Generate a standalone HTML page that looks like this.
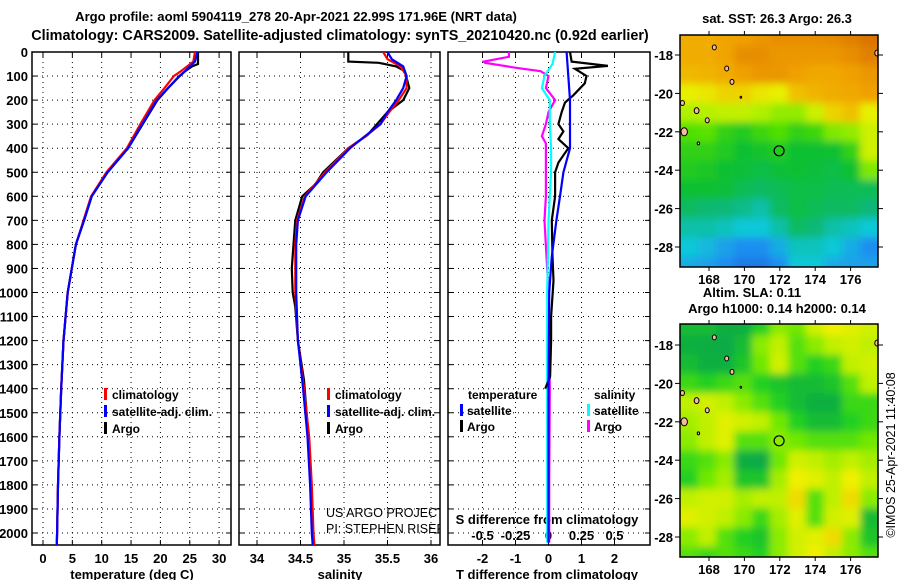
<!DOCTYPE html>
<html><head><meta charset="utf-8"><style>
body{margin:0;background:#fff}
svg text{font-family:"Liberation Sans",sans-serif;font-weight:bold;fill:#000}
svg text.nw{font-weight:normal}
</style></head><body>
<svg id="svg" width="900" height="580" viewBox="0 0 900 580" xmlns="http://www.w3.org/2000/svg">
<rect width="900" height="580" fill="#fff"/>
<text x="296" y="21" font-size="13.1" text-anchor="middle">Argo profile: aoml 5904119_278 20-Apr-2021 22.99S 171.96E (NRT data)</text>
<text x="340" y="40" font-size="14.4" text-anchor="middle">Climatology: CARS2009. Satellite-adjusted climatology: synTS_20210420.nc (0.92d earlier)</text>
<defs>
<clipPath id="c1"><rect x="32" y="52" width="199" height="493"/></clipPath>
<clipPath id="c2"><rect x="239" y="52" width="201" height="493"/></clipPath>
<clipPath id="c3"><rect x="448" y="52" width="202" height="493"/></clipPath>
<clipPath id="m1"><rect x="680" y="35" width="198" height="232"/></clipPath>
<clipPath id="m2"><rect x="680" y="324" width="198" height="233"/></clipPath>
<filter id="bl" x="-10%" y="-10%" width="120%" height="120%"><feGaussianBlur stdDeviation="4"/></filter>
</defs>
<g id="root"></g>
</svg>
<script>
// ---- data ----
const depthTicks=[0,100,200,300,400,500,600,700,800,900,1000,1100,1200,1300,1400,1500,1600,1700,1800,1900,2000];
const tempTicks=[0,5,10,15,20,25,30];
const salTicks=[34,34.5,35,35.5,36];
const tdiffTicks=[-2,-1,0,1,2];
const sdiffTicks=[-0.5,-0.25,0,0.25,0.5];
const sdiffTickLabels=["-0.5","-0.25","0","0.25","0.5"];
const argoDepth=[0,50,60,80,100,150,200,300,400,500,600,700,800,900,1000,1200,1400,1600,1800,2000,2040];
const argoTemp=[26.4,26.4,25.4,24.2,23.3,21.3,19.5,17,14.5,11,8.3,7.0,5.6,4.9,4.2,3.5,3.1,2.8,2.55,2.4,2.35];
const climDepth=[0,40,80,100,150,200,300,400,500,600,700,800,900,1000,1200,1400,1600,1800,2000,2050];
const climTemp=[25.9,25.6,23.5,22.3,20.7,19,16.6,14.3,10.8,8.2,6.9,5.6,4.9,4.2,3.5,3.1,2.8,2.55,2.4,2.35];
const satTemp=[26.3,25.9,24.2,23.2,21.3,19.4,16.9,14.5,11,8.3,7.0,5.6,4.9,4.2,3.5,3.1,2.8,2.55,2.4,2.35];
const argoSDepth=[0,40,45,60,80,150,200,250,345,400,500,550,600,700,800,900,1000,1060,1200,1365,1500,1700,1900,2000,2040];
const argoSal=[35.05,35.05,35.4,35.6,35.7,35.75,35.68,35.5,35.27,35.05,34.76,34.67,34.52,34.44,34.42,34.4,34.41,34.44,34.47,34.54,34.57,34.61,34.63,34.64,34.65];
const climSDepth=[0,30,60,100,150,200,250,300,350,400,500,600,700,800,1000,1200,1400,1600,1800,2000,2050];
const climSal=[35.45,35.5,35.65,35.72,35.72,35.63,35.52,35.42,35.25,35.05,34.78,34.55,34.46,34.44,34.44,34.47,34.54,34.6,34.63,34.65,34.66];
const satSal=[35.5,35.55,35.68,35.72,35.68,35.6,35.5,35.42,35.24,35.07,34.8,34.56,34.47,34.45,34.45,34.47,34.53,34.58,34.61,34.63,34.64];
const dDepth=[0,40,58,70,100,130,180,210,250,300,330,362,400,460,500,600,700,850,950,1100,1200,1350,1400];
const argoTdiff=[0.65,0.7,1.8,0.8,1.15,1.1,0.75,0.5,0.4,0.3,0.45,0.3,0.6,0.3,0.2,0.2,0.1,0.12,0.15,0.08,0.08,0.05,-0.1];
const sDepth=[0,20,40,45,66,80,100,150,200,250,300,350,380,400,600,700,1000,1400,1800,2040];
const argoSdiff=[-0.3,-0.3,-0.49,-0.48,-0.24,-0.06,0,-0.02,0.05,0,-0.02,-0.05,-0.02,-0.02,-0.02,-0.03,0.0,0.01,0.005,0.005];
const satDDepth=[0,100,200,300,400,500,600,700,850,1000,1400,2040];
const satTdiff=[0.55,0.6,0.65,0.65,0.65,0.45,0.35,0.24,0.1,0.02,0,0];
const satSDepth=[0,50,100,150,200,300,400,500,600,700,1000,2040];
const satSdiff=[0.05,0.03,-0.03,-0.05,0.01,0.01,0.02,0.02,0.01,0,-0.01,-0.01];
const latTicks=[-18,-20,-22,-24,-26,-28];
const lonTicks=[168,170,172,174,176];
const sstGrid=[
[.85,.85,.87,.88,.9,.92,.92,.92,.93,.95,.97],
[.85,.85,.87,.92,.92,.9,.9,.9,.9,.92,.95],
[.82,.83,.85,.88,.9,.9,.88,.86,.86,.88,.9],
[.75,.76,.78,.78,.76,.75,.8,.83,.85,.86,.88],
[.65,.66,.68,.68,.65,.62,.62,.7,.78,.8,.75],
[.55,.56,.5,.48,.52,.55,.5,.52,.6,.62,.7],
[.5,.5,.48,.45,.46,.48,.45,.45,.45,.5,.7],
[.48,.47,.45,.44,.42,.44,.45,.43,.42,.45,.6],
[.45,.45,.44,.4,.38,.4,.42,.42,.4,.4,.4],
[.38,.36,.35,.33,.3,.38,.42,.4,.38,.38,.35],
[.3,.3,.28,.25,.25,.3,.38,.35,.3,.28,.25],
[.25,.22,.18,.15,.15,.2,.28,.28,.25,.2,.15],
[.2,.18,.15,.1,.1,.15,.25,.25,.2,.18,.18]];
const slaGrid=[
[.3,.3,.25,.25,.4,.6,.55,.75,.85,.8,.75],
[.25,.2,.15,.3,.6,.7,.5,.6,.7,.75,.7],
[.3,.25,.25,.35,.55,.75,.5,.4,.45,.7,.75],
[.45,.4,.45,.5,.4,.35,.3,.3,.35,.5,.7],
[.7,.75,.7,.6,.5,.4,.3,.25,.25,.45,.45],
[.65,.7,.8,.75,.7,.55,.4,.3,.3,.4,.45],
[.6,.7,.8,.5,.5,.6,.55,.5,.5,.5,.55],
[.45,.5,.6,.2,.15,.55,.75,.7,.65,.7,.65],
[.4,.55,.65,.35,.35,.65,.85,.8,.7,.85,.7],
[.7,.75,.75,.65,.7,.7,.9,.5,.7,.9,.6],
[.8,.75,.7,.6,.45,.65,.8,.5,.75,.8,.3],
[.6,.7,.5,.4,.35,.6,.75,.8,.9,.6,.35],
[.5,.45,.5,.45,.4,.6,.75,.85,.7,.6,.5]];
const islandLon=[168.3,169.0,169.3,169.8,166.5,167.3,167.9,166.6,167.4,177.5];
const islandLat=[-17.6,-18.7,-19.4,-20.2,-20.5,-20.9,-21.4,-22.0,-22.6,-17.9];
const islandR=[2.5,2.5,2.5,1,2.5,3,2.5,4,1.5,3];
const floatLon=171.96, floatLat=-22.99;

// ---- scales ----
const NS="http://www.w3.org/2000/svg";
const root=document.getElementById('root');
function el(tag,attrs,parent){const e=document.createElementNS(NS,tag);for(const k in attrs)e.setAttribute(k,attrs[k]);(parent||root).appendChild(e);return e;}
const yD=d=>52+d*0.2405;
const xT=t=>43+t*5.87;
const xS=s=>257+(s-34)*87;
const xTd=t=>548.5+t*33;
const xSd=s=>548.5+s*132;
const panels=[{x:32,w:199,clip:'c1'},{x:239,w:201,clip:'c2'},{x:448,w:202,clip:'c3'}];

function frame(p,xticks,xf,name){
  const g=el('g',{});
  
  
  depthTicks.forEach(d=>{if(d>0){el('line',{x1:p.x,x2:p.x+p.w,y1:yD(d),y2:yD(d),stroke:'#000','stroke-dasharray':'1 4','stroke-width':1},g);
    el('line',{x1:p.x,x2:p.x+5,y1:yD(d),y2:yD(d),stroke:'#000'},g);el('line',{x1:p.x+p.w-5,x2:p.x+p.w,y1:yD(d),y2:yD(d),stroke:'#000'},g);}});
  xticks.forEach(v=>{const x=xf(v);el('line',{x1:x,x2:x,y1:52,y2:545,stroke:'#000','stroke-dasharray':'1 4'},g);
    el('line',{x1:x,x2:x,y1:52,y2:57,stroke:'#000'},g);el('line',{x1:x,x2:x,y1:540,y2:545,stroke:'#000'},g);});
  const r=el('rect',{x:p.x,y:52,width:p.w,height:493,fill:'none',stroke:'#000','stroke-width':1.5});
  
  
}
frame(panels[0],tempTicks,xT,'temperature-panel');
frame(panels[1],salTicks,xS,'salinity-panel');
frame(panels[2],tdiffTicks,xTd,'difference-panel');

depthTicks.forEach(d=>{const t=el('text',{x:28,y:yD(d)+5,'font-size':13,'text-anchor':'end'});t.textContent=d;
  
  });
function xlabels(ticks,f,labels){ticks.forEach((v,i)=>{const t=el('text',{x:f(v),y:563,'font-size':13,'text-anchor':'middle'});t.textContent=labels?labels[i]:v;
  
  });}
xlabels(tempTicks,xT);xlabels(salTicks,xS);xlabels(tdiffTicks,xTd);
function txt(x,y,s,size,name,anchor,normal){const t=el('text',{x:x,y:y,'font-size':size,'text-anchor':anchor||'start'});if(normal)t.setAttribute('class','nw');t.textContent=s;
  
  return t;}
txt(132,579,'temperature (deg C)',13,'x-axis-title-temperature','middle');
txt(340,579,'salinity',13,'x-axis-title-salinity','middle');
txt(547,579,'T difference from climatology',13,'x-axis-title-tdiff','middle');
txt(547,524,'S difference from climatology',13,'s-diff-axis-title','middle');
sdiffTicks.forEach((v,i)=>txt(xSd(v),540,sdiffTickLabels[i],13,'s-diff-tick-label','middle'));

function line(xs,ds,xf,color,clip,name){
  const pts=xs.map((v,i)=>xf(v).toFixed(1)+','+yD(ds[i]).toFixed(1)).join(' ');
  const p=el('polyline',{points:pts,fill:'none',stroke:color,'stroke-width':2.2,'clip-path':'url(#'+clip+')'});
  
  
}
line(argoTemp,argoDepth,xT,'#000','c1','argo-temperature-line');
line(climTemp,climDepth,xT,'#f00','c1','clim-temperature-line');
line(satTemp,climDepth,xT,'#00f','c1','sat-temperature-line');
line(argoSal,argoSDepth,xS,'#000','c2','argo-salinity-line');
line(climSal,climSDepth,xS,'#f00','c2','clim-salinity-line');
line(satSal,climSDepth,xS,'#00f','c2','sat-salinity-line');
line(argoSdiff,sDepth,xSd,'#f0f','c3','argo-sdiff-line');
line(satSdiff,satSDepth,xSd,'#0ff','c3','sat-sdiff-line');
line(argoTdiff,dDepth,xTd,'#000','c3','argo-tdiff-line');
line(satTdiff,satDDepth,xTd,'#00f','c3','sat-tdiff-line');

function mark(x,y,c){const r=el('rect',{x:x,y:y-11,width:3,height:12,fill:c});
  
  }
[[104,'climatology','#f00'],[104,'satellite-adj. clim.','#00f'],[104,'Argo','#000']].forEach((a,i)=>{mark(a[0],399+i*17,a[2]);txt(a[0]+8,399+i*17,a[1],12,'legend-entry-temperature');});
[[327,'climatology','#f00'],[327,'satellite-adj. clim.','#00f'],[327,'Argo','#000']].forEach((a,i)=>{mark(a[0],399+i*17,a[2]);txt(a[0]+8,399+i*17,a[1],12,'legend-entry-salinity');});
txt(468,399,'temperature',12,'legend-header-temperature');
txt(594,399,'salinity',12,'legend-header-salinity');
mark(460,415,'#00f');txt(467,415,'satellite',12,'legend-entry-tsat');
mark(460,431,'#000');txt(467,431,'Argo',12,'legend-entry-targo');
mark(587,415,'#0ff');txt(594,415,'satellite',12,'legend-entry-ssat');
mark(587,431,'#f0f');txt(594,431,'Argo',12,'legend-entry-sargo');
const g2=el('g',{'clip-path':'url(#c2)'});
const a1=txt(326,517,'US ARGO PROJECT',12.5,'project-label','start',true);g2.appendChild(a1);
const a2=txt(326,533,'PI: STEPHEN RISER',12.5,'pi-label','start',true);g2.appendChild(a2);

// ---- maps ----
const sstStops=[[0,[26,79,214]],[.15,[30,143,240]],[.25,[16,200,216]],[.35,[16,184,120]],[.45,[16,192,48]],[.55,[80,224,0]],[.65,[176,240,0]],[.75,[232,240,0]],[.8,[240,192,0]],[.88,[240,160,0]],[.95,[224,128,0]],[1,[208,96,0]]];
const slaStops=[[0,[0,160,80]],[.25,[16,176,64]],[.4,[32,208,32]],[.55,[112,232,0]],[.7,[192,240,0]],[.85,[240,240,0]],[1,[240,176,0]]];
function cmap(stops,v){for(let i=1;i<stops.length;i++){if(v<=stops[i][0]){const a=stops[i-1],b=stops[i],f=(v-a[0])/(b[0]-a[0]);return 'rgb('+a[1].map((c,k)=>Math.round(c+(b[1][k]-c)*f)).join(',')+')';}}return 'rgb('+stops[stops.length-1][1].join(',')+')';}
const lonX=lon=>709+(lon-168)*17.7;
function drawMap(grid,stops,y18,clip,name,top,h){
  const mx=lon=>lonX(lon), my=lat=>y18+(-18-lat)*19.2;
  const outer=el('g',{'clip-path':'url(#'+clip+')'});
  
  
  const g=el('g',{filter:'url(#bl)'},outer);
  const cw=198/11;
  grid.forEach((row,r)=>row.forEach((v,c)=>{
    const lat=-17-r;
    let x=680+c*cw, w=cw;
    if(c==0){x-=20;w+=20;} if(c==10)w+=20;
    let y=my(lat)-9.6,hh=19.2; if(r==0){y-=20;hh+=20;} if(r==grid.length-1)hh+=20;
    el('rect',{x:x,y:y,width:w+0.5,height:hh+0.5,fill:cmap(stops,v)},g);}));
  islandLon.forEach((lo,i)=>{const c=el('ellipse',{cx:mx(lo),cy:my(islandLat[i]),rx:islandR[i]*0.8,ry:islandR[i],fill:'#f9b8a0',stroke:'#000','stroke-width':1},outer);
    
    });
  const fc=el('circle',{cx:mx(floatLon),cy:my(floatLat),r:5,fill:'none',stroke:'#000','stroke-width':1.2},outer);
  
  
  const fr=el('rect',{x:680,y:top,width:198,height:h,fill:'none',stroke:'#000','stroke-width':1.5});
  
  
  latTicks.forEach(l=>{const y=my(l);el('line',{x1:675,x2:680,y1:y,y2:y,stroke:'#000'});el('line',{x1:878,x2:883,y1:y,y2:y,stroke:'#000'});txt(673,y+5,String(l),13,'map-lat-label','end');});
  lonTicks.forEach(l=>{const x=mx(l);el('line',{x1:x,x2:x,y1:top-4,y2:top,stroke:'#000'});el('line',{x1:x,x2:x,y1:top+h,y2:top+h+4,stroke:'#000'});txt(x,top+h+17,String(l),13,'map-lon-label','middle');});
}
drawMap(sstGrid,sstStops,55,'m1','sst-map',35,232);
drawMap(slaGrid,slaStops,345,'m2','sla-map',324,233);
txt(777,23,'sat. SST: 26.3 Argo: 26.3',13,'sst-map-title','middle');
txt(752,297,'Altim. SLA: 0.11',13,'sla-map-subtitle','middle');
txt(777,313,'Argo h1000: 0.14 h2000: 0.14',13,'sla-map-title','middle');
const cp=txt(0,0,'©IMOS 25-Apr-2021 11:40:08',12.5,'timestamp','middle',true);
cp.setAttribute('transform','translate(895,455) rotate(-90)');
</script>
</body></html>
